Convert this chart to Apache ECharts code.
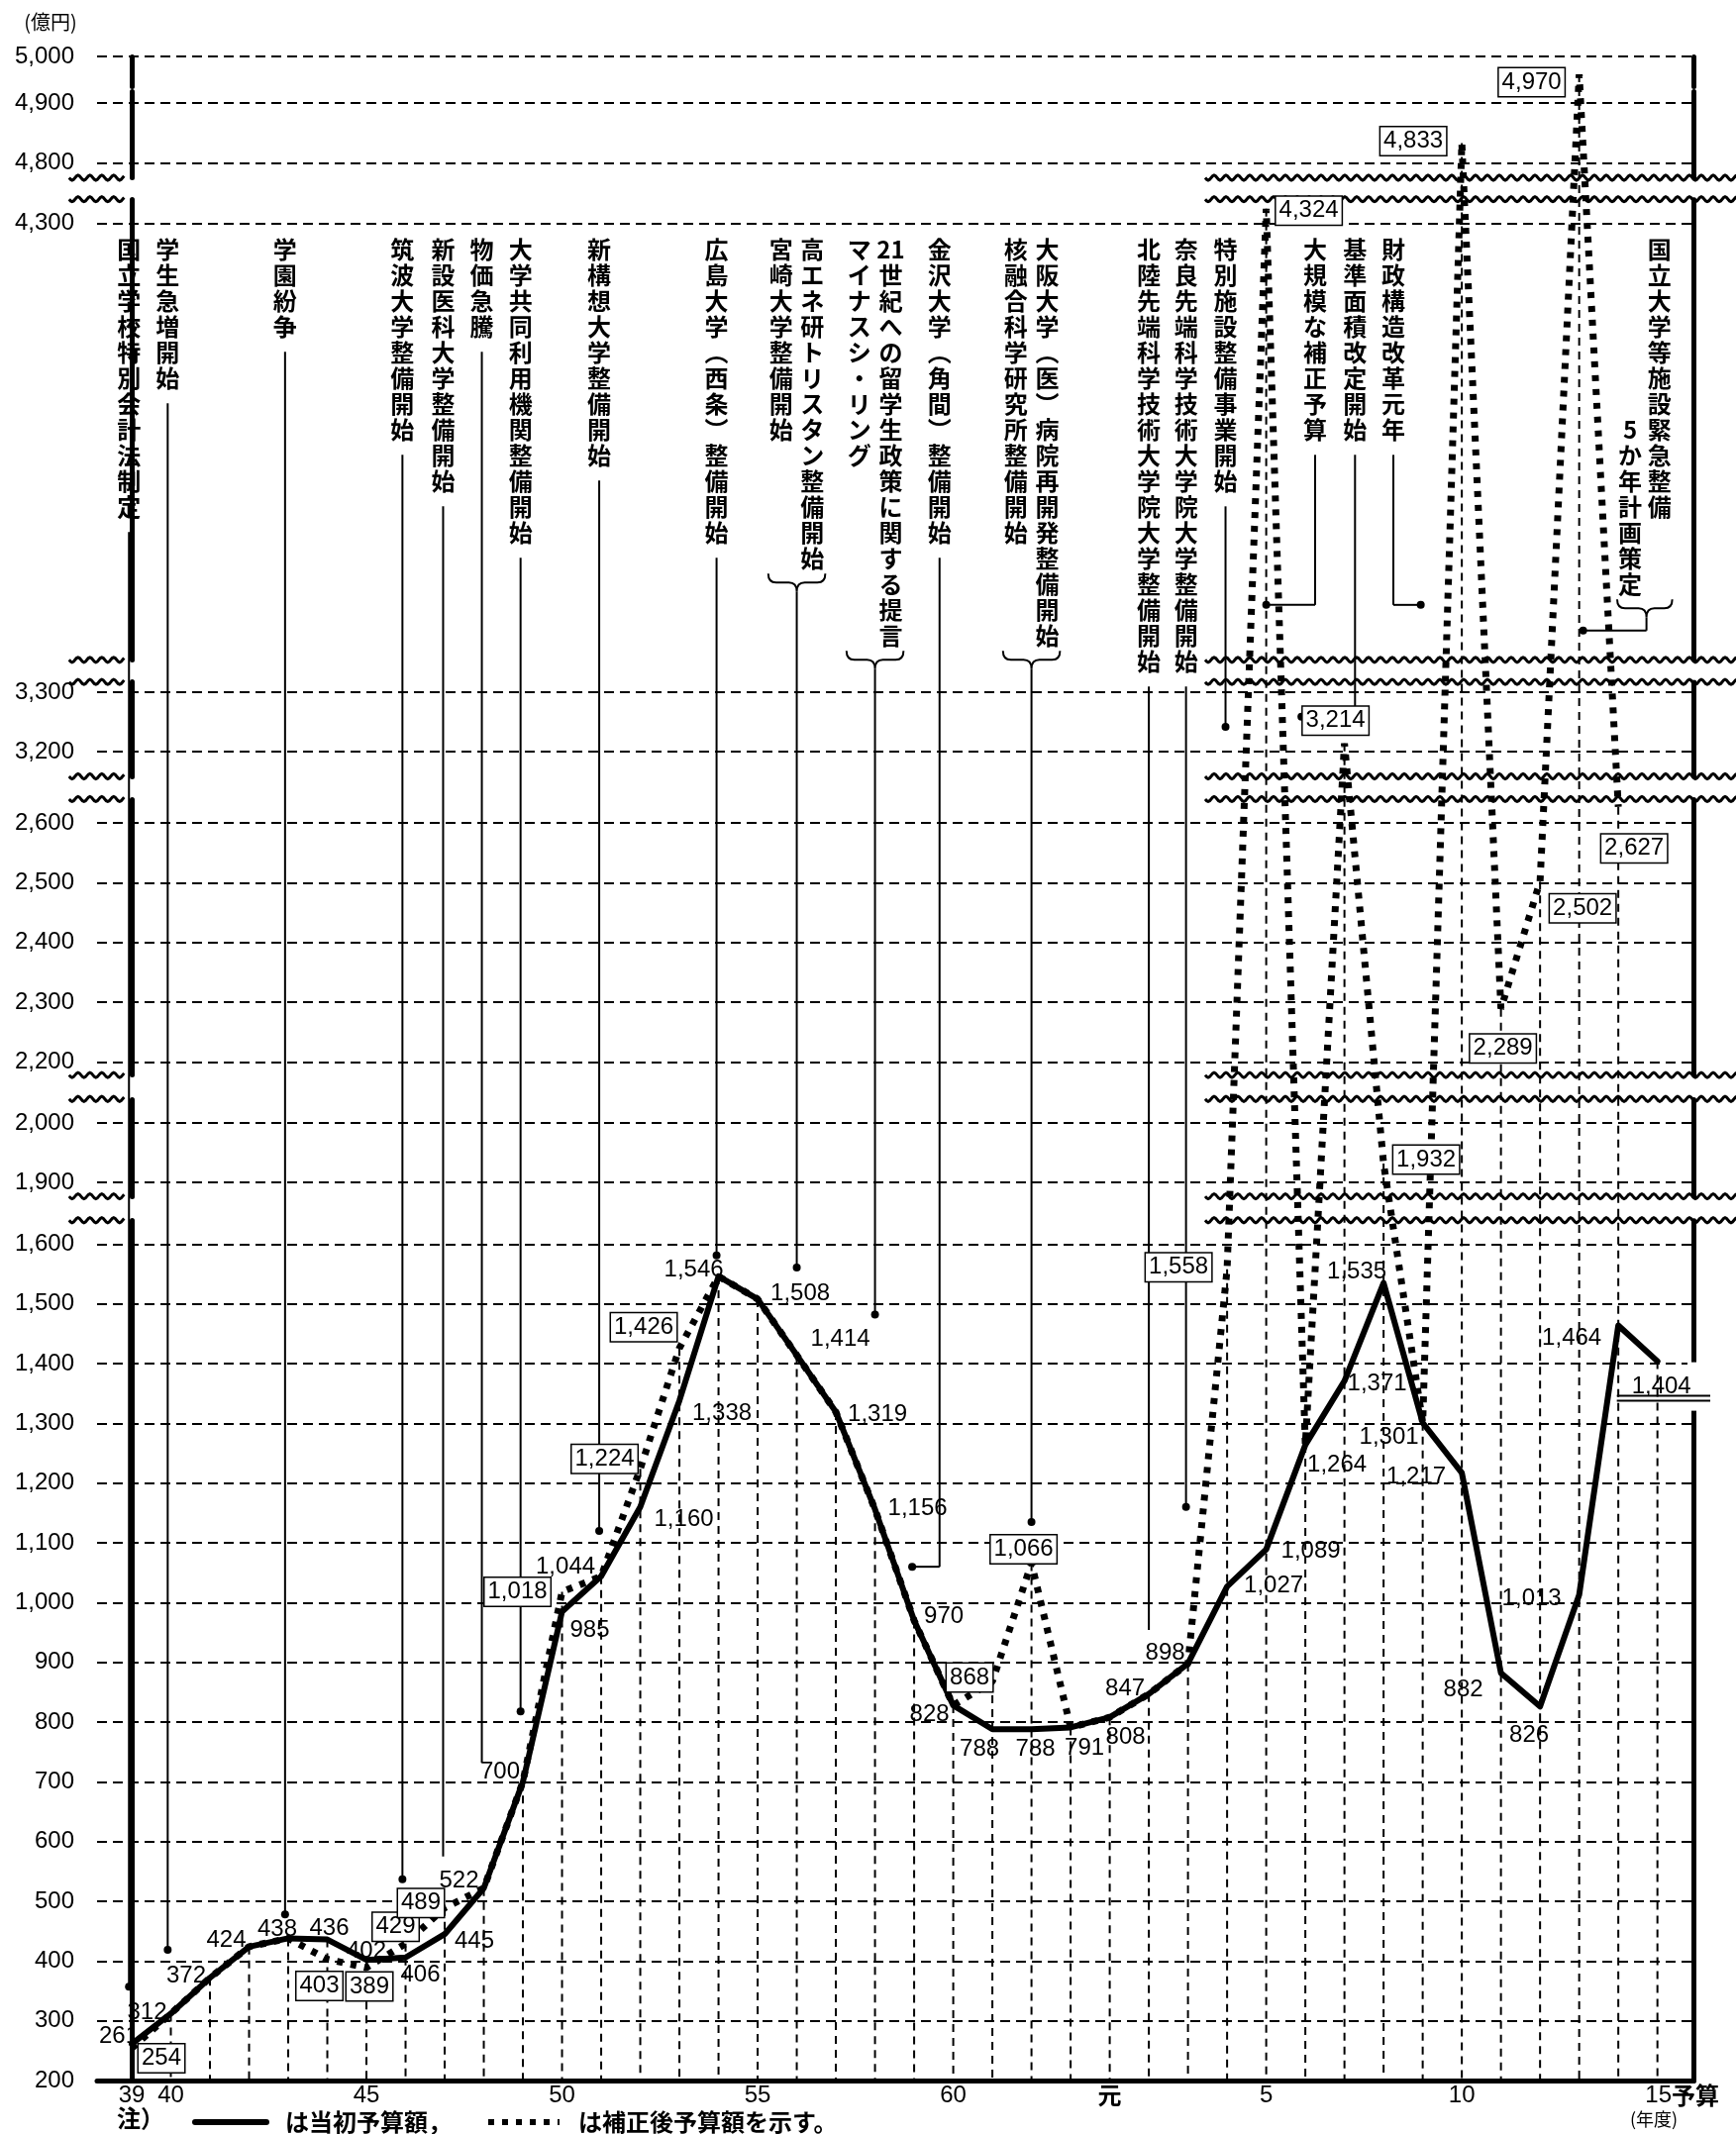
<!DOCTYPE html>
<html lang="ja">
<head>
<meta charset="utf-8">
<title>国立学校施設整備費の推移</title>
<script src="https://cdn.jsdelivr.net/npm/echarts@6.0.0/dist/echarts.min.js"></script>
<style>
html,body{margin:0;padding:0;background:#fff;}
#chart{width:1753px;height:2155px;}
</style>
</head>
<body>
<div id="chart"></div>
<script>
// ================= DATA =================
const yearLabels = ['39','40','41','42','43','44','45','46','47','48','49','50','51','52','53','54','55','56','57','58','59','60','61','62','63','元','2','3','4','5','6','7','8','9','10','11','12','13','14','15'];
// 当初予算額 (億円)
const initialBudget = [261,312,372,424,438,436,402,406,445,522,700,985,1044,1160,1338,1546,1508,1414,1319,1156,970,828,788,788,791,808,847,898,1027,1089,1264,1371,1535,1301,1217,882,826,1013,1464,1404];
// 補正後予算額 (億円)
const revisedBudget = [254,312,372,424,438,403,389,429,489,522,700,1018,1044,1224,1426,1546,1508,1414,1319,1156,970,828,868,1066,791,808,847,898,1558,4324,1264,3214,1932,1301,4833,2289,2502,4970,2627,null];
// 補正後予算額のうち枠付きで表示される年度
const revisedLabelIdx = [0,5,6,7,8,11,13,14,22,23,28,29,31,32,34,35,36,37,38];
// y axis tick labels
const yTickValues = [200,300,400,500,600,700,800,900,1000,1100,1200,1300,1400,1500,1600,1900,2000,2200,2300,2400,2500,2600,3200,3300,4300,4800,4900,5000];
// x axis tick positions (index into yearLabels)
const xTickIdx = [0,1,6,11,16,21,25,29,34,39];
// axis breaks drawn with wavy lines [start, end, gap]
const axisBreaks = [[1640,1877,40],[2040,2178,40],[2640,3159,38],[3317,3569,37],[4340,4775,36]];
// the top band (4,900–5,000) is drawn slightly shorter in the original: silent compression
const topCompression = [4920,4950,8];

// 出来事の注記 (縦書き)
const notes = [
  { x: -0.07, end: 357,  dot: true,  cols: [{ x: -0.07, t: '国立学校特別会計法制定' }] },
  { x: 0.92,  end: 419,  dot: true,  cols: [{ x: 0.92,  t: '学生急増開始' }] },
  { x: 3.92,  end: 478,  dot: true,  cols: [{ x: 3.92,  t: '学園紛争' }] },
  { x: 6.92,  end: 537,  dot: true,  cols: [{ x: 6.92,  t: '筑波大学整備開始' }] },
  { x: 7.96,  end: 575,  dot: false, cols: [{ x: 7.96,  t: '新設医科大学整備開始' }] },
  { x: 8.95,  end: 732,  dot: false, cols: [{ x: 8.95,  t: '物価急騰' }] },
  { x: 9.94,  end: 818,  dot: true,  cols: [{ x: 9.94,  t: '大学共同利用機関整備開始' }] },
  { x: 11.95, end: 1120, dot: true,  cols: [{ x: 11.95, t: '新構想大学整備開始' }] },
  { x: 14.95, end: 1581, dot: true,  cols: [{ x: 14.95, t: '広島大学︵西条︶整備開始' }] },
  { x: 17.0,  end: 1561, dot: true,  cols: [{ x: 16.6, t: '宮崎大学整備開始' }, { x: 17.4, t: '高エネ研トリスタン整備開始' }] },
  { x: 19.0,  end: 1482, dot: true,  cols: [{ x: 18.6, t: 'マイナスシ・リング' }, { x: 19.4, t: '21|世|紀|へ|の|留|学|生|政|策|に|関|す|る|提|言' }] },
  { x: 20.65, end: 1060, dot: true,  hook: 19.95, cols: [{ x: 20.65, t: '金沢大学︵角間︶整備開始' }] },
  { x: 23.0,  end: 1135, dot: true,  cols: [{ x: 22.6, t: '核融合科学研究所整備開始' }, { x: 23.4, t: '大阪大学︵医︶病院再開発整備開始' }] },
  { x: 26.0,  end: 954,  dot: false, cols: [{ x: 26.0,  t: '北陸先端科学技術大学院大学整備開始' }] },
  { x: 26.95, end: 1160, dot: true,  cols: [{ x: 26.95, t: '奈良先端科学技術大学院大学整備開始' }] },
  { x: 27.96, end: 3242, dot: true,  cols: [{ x: 27.96, t: '特別施設整備事業開始' }] },
  { x: 30.25, end: 3661, dot: true,  hook: 29.0,  cols: [{ x: 30.25, t: '大規模な補正予算' }] },
  { x: 31.27, end: 3259, dot: true,  hook: 29.9,  cols: [{ x: 31.27, t: '基準面積改定開始' }] },
  { x: 32.25, end: 3661, dot: true,  hook: 32.95, cols: [{ x: 32.25, t: '財政構造改革元年' }] },
  { x: 38.72, end: 3618, dot: true,  hook: 37.1,  cols: [{ x: 38.3, t: '5|か|年|計|画|策|定', row: 7 }, { x: 39.05, t: '国立大学等施設緊急整備' }] }
];

// ================= LAYOUT / STYLE =================
const initialLabelOffset = [
  [-13,-8],[-24,-1],[-24,-2],[-23,-6],[-11,-9],[2,-11],[0,-9],[15,18],[30,7],[-25,-7],
  [-23,-10],[28,19],[-36,-9],[44,13],[43,13],[-25,-7],[43,-6],[44,-16],[42,2],[43,-1],
  [30,-4],[-24,9],[-13,20],[4,20],[14,21],[16,20],[-24,-5],[-23,-11],[47,-1],[45,2],
  [32,20],[33,3],[-27,-11],[-34,15],[-46,4],[-38,17],[-11,29],[-48,4],[-47,13],[4,26]
];
const revisedLabelOffset = {
  0:[30,10],5:[-8,27],6:[3,19],7:[-10,-17],8:[-24,-5],11:[-45,0],13:[-36,-10],14:[-36,-21],
  22:[-23,-4],23:[-8,-14],28:[-49,-2],29:[43,2],31:[-9,-23],32:[43,-4],34:[-49,-2],
  35:[2,40],36:[43,27],37:[-48,8],38:[16,42]
};
const wavePieces = [[-1.6,-0.18],[27.44,41.1]];
const X_MIN = -0.886, X_MAX = 39.92;
const NUM_FONT = '"Liberation Sans", Arial, sans-serif';
const JP_FONT = '"Noto Sans CJK JP", sans-serif';
const LH = 26;

const fmt = v => v.toLocaleString('en-US');
const toCells = s => s.indexOf('|') >= 0 ? s.split('|') : Array.from(s);

const solidName = 'は当初予算額，';
const dottedName = 'は補正後予算額を示す。';

// label table built from the value arrays
const labelData = [];
initialBudget.forEach((v, i) => labelData.push({ i, v, boxed: false, off: initialLabelOffset[i] }));
revisedLabelIdx.forEach(i => labelData.push({ i, v: revisedBudget[i], boxed: true, off: revisedLabelOffset[i] }));

const dropData = initialBudget.map((v, i) => [i, Math.max(v, revisedBudget[i] == null ? v : revisedBudget[i])]);

function dropItem(params, api) {
  const i = api.value(0), top = api.value(1);
  const a = api.coord([i, top]), b = api.coord([i, 200]);
  return { type: 'line', shape: { x1: a[0], y1: a[1], x2: b[0], y2: b[1] },
    style: { stroke: '#000', lineWidth: 2, lineDash: [8, 6] } };
}

function waveItem(params, api) {
  const b = axisBreaks[params.dataIndex];
  const ys = [api.coord([0, b[0]])[1], api.coord([0, b[1]])[1]];
  const ch = [];
  const axL = api.coord([X_MIN, 1000])[0], axR = api.coord([X_MAX, 1000])[0];
  [axL, axR].forEach(ax => ch.push({ type: 'rect',
    shape: { x: ax - 6, y: ys[1] + 2, width: 12, height: ys[0] - ys[1] - 4 },
    style: { fill: '#fff' } }));
  wavePieces.forEach(pc => {
    const x0 = api.coord([pc[0], 1000])[0], x1 = api.coord([pc[1], 1000])[0];
    ys.forEach(y => {
      const pts = [];
      for (let x = x0; x <= x1; x += 1.5) pts.push([x, y + 2.5 * Math.sin((x - x0) / 12 * 2 * Math.PI)]);
      ch.push({ type: 'polyline', shape: { points: pts }, style: { stroke: '#000', lineWidth: 3, fill: null } });
    });
  });
  return { type: 'group', children: ch };
}

function noteItem(params, api) {
  const n = notes[params.dataIndex];
  const top = api.coord([0, 4300])[1] + 14;
  const ch = [];
  let bottom = top;
  n.cols.forEach(c => {
    const cells = toCells(c.t);
    const start = c.row || 0;
    const px = api.coord([c.x, 4300])[0];
    ch.push({ type: 'text', x: px, y: top + start * LH,
      style: { text: cells.join('\n'), font: 'bold 24px ' + JP_FONT, lineHeight: LH,
        align: 'center', verticalAlign: 'top', fill: '#000' } });
    bottom = Math.max(bottom, top + (start + cells.length) * LH);
  });
  const lx = api.coord([n.x, 4300])[0];
  const endY = api.coord([n.x, n.end])[1];
  let startY;
  if (n.cols.length > 1) {
    const L = api.coord([n.cols[0].x, 4300])[0] - 13;
    const R = api.coord([n.cols[1].x, 4300])[0] + 13;
    const T = bottom + 2, H = 18, M = T + H / 2, B = T + H;
    ch.push({ type: 'path', shape: { pathData:
      `M${L},${T}Q${L},${M} ${L + 8},${M}L${lx - 8},${M}Q${lx},${M} ${lx},${B}Q${lx},${M} ${lx + 8},${M}L${R - 8},${M}Q${R},${M} ${R},${T}` },
      style: { stroke: '#000', lineWidth: 2, fill: null } });
    startY = B;
  } else {
    startY = bottom + 12;
  }
  ch.push({ type: 'line', shape: { x1: lx, y1: startY, x2: lx, y2: endY }, style: { stroke: '#000', lineWidth: 2 } });
  let dotX = lx;
  if (n.hook != null) {
    const hx = api.coord([n.hook, n.end])[0];
    ch.push({ type: 'line', shape: { x1: lx, y1: endY, x2: hx, y2: endY }, style: { stroke: '#000', lineWidth: 2 } });
    dotX = hx;
  }
  if (n.dot) ch.push({ type: 'circle', shape: { cx: dotX, cy: endY, r: 4 }, style: { fill: '#000' } });
  return { type: 'group', children: ch };
}

function labelItem(params, api) {
  const d = labelData[params.dataIndex];
  const p = api.coord([d.i, d.v]);
  const cx = p[0] + d.off[0], cy = p[1] + d.off[1];
  const ch = [];
  if (!d.boxed && d.i === initialBudget.length - 1) {
    const axR = api.coord([X_MAX, 1000])[0];
    ch.push({ type: 'rect', shape: { x: axR - 6, y: cy - 25, width: 12, height: 49 }, style: { fill: '#fff' } });
    [9, 14].forEach(dy => ch.push({ type: 'line',
      shape: { x1: p[0] - 41, y1: cy + dy, x2: axR + 17, y2: cy + dy }, style: { stroke: '#000', lineWidth: 2 } }));
  }
  ch.push({ type: 'text', x: cx, y: cy,
    style: d.boxed ? {
      text: fmt(d.v), font: '24px ' + NUM_FONT, fill: '#000', align: 'center', verticalAlign: 'middle',
      backgroundColor: '#fff', borderColor: '#000', borderWidth: 1.5, padding: [3, 3, 1, 3]
    } : {
      text: fmt(d.v), font: '24px ' + NUM_FONT, fill: '#000', align: 'center', verticalAlign: 'middle'
    } });
  return { type: 'group', children: ch };
}

const breaksOpt = axisBreaks.concat([topCompression]).map(b => ({ start: b[0], end: b[1], gap: b[2] }));

const chart = echarts.init(document.getElementById('chart'), null, { renderer: 'canvas' });
chart.setOption({
  animation: false,
  backgroundColor: '#fff',
  grid: { left: 98, right: 43, top: 57, bottom: 54, outerBoundsMode: 'none', containLabel: false },
  legend: {
    left: 189, top: 2126, itemWidth: 72, itemHeight: 26, itemGap: 34,
    selectedMode: false,
    data: [solidName, dottedName],
    lineStyle: { width: 6 },
    itemStyle: { opacity: 0, color: 'rgba(0,0,0,0)', borderWidth: 0 },
    textStyle: { fontSize: 24, fontWeight: 'bold', fontFamily: JP_FONT, color: '#000', padding: [0, 0, 0, 14] }
  },
  graphic: [
    { type: 'text', x: 51, y: 22, style: { text: '(億円)', font: '20px ' + JP_FONT, fill: '#000', align: 'center', verticalAlign: 'middle' } },
    { type: 'text', x: 118, y: 2139, style: { text: '注）', font: 'bold 24px ' + JP_FONT, fill: '#000', align: 'left', verticalAlign: 'middle' } },
    { type: 'text', x: 1670, y: 2140, style: { text: '(年度)', font: '18px ' + JP_FONT, fill: '#000', align: 'center', verticalAlign: 'middle' } }
  ],
  xAxis: {
    type: 'value', min: X_MIN, max: X_MAX,
    axisLine: { show: true, lineStyle: { color: '#000', width: 5 } },
    axisTick: { show: false, customValues: xTickIdx },
    splitLine: { show: false },
    axisLabel: {
      customValues: xTickIdx, margin: 3, color: '#000', fontSize: 24, fontFamily: NUM_FONT,
      formatter: v => {
        const s = yearLabels[Math.round(v)];
        if (s === '元') return '{g|元}';
        if (Math.round(v) === yearLabels.length - 1) return '{n|' + s + '}{b|予算}';
        return s;
      },
      rich: {
        g: { fontSize: 24, fontWeight: 'bold', fontFamily: JP_FONT, color: '#000' },
        n: { fontSize: 24, fontFamily: NUM_FONT, color: '#000', padding: [0, 0, 0, 50] },
        b: { fontSize: 24, fontWeight: 'bold', fontFamily: JP_FONT, color: '#000' }
      }
    }
  },
  yAxis: [{
    type: 'value', min: 200, max: 5000,
    breaks: breaksOpt,
    breakArea: { show: false },
    axisLine: { show: true, lineStyle: { color: '#000', width: 5 } },
    axisTick: { show: false, customValues: yTickValues },
    axisLabel: { customValues: yTickValues, formatter: v => fmt(v), fontSize: 24, fontFamily: NUM_FONT, color: '#000', margin: 23 },
    splitLine: { show: true, lineStyle: { color: '#000', width: 2, type: [10, 6] } }
  }, {
    type: 'value', min: 200, max: 5000, position: 'right',
    breaks: breaksOpt,
    breakArea: { show: false },
    axisLine: { show: true, lineStyle: { color: '#000', width: 5 } },
    axisTick: { show: false }, axisLabel: { show: false }, splitLine: { show: false }
  }],
  series: [
    { type: 'custom', name: 'drop', z: 1, silent: true, renderItem: dropItem, data: dropData },
    { type: 'line', name: dottedName, z: 2, silent: true, symbol: 'none',
      lineStyle: { color: '#000', width: 7, type: [6, 8], cap: 'butt' },
      itemStyle: { color: '#000' },
      data: revisedBudget.map((v, i) => [i, v]).filter(d => d[1] != null) },
    { type: 'line', name: solidName, z: 3, silent: true, symbol: 'none',
      lineStyle: { color: '#000', width: 6, join: 'round', cap: 'round' },
      itemStyle: { color: '#000' },
      data: initialBudget.map((v, i) => [i, v]) },
    { type: 'custom', name: 'waves', z: 4, silent: true, clip: false, renderItem: waveItem,
      data: axisBreaks.map(b => [0, b[0]]) },
    { type: 'custom', name: 'notes', z: 5, silent: true, clip: false, renderItem: noteItem,
      data: notes.map(n => [n.x, 4300]) },
    { type: 'custom', name: 'labels', z: 6, silent: true, clip: false, renderItem: labelItem,
      data: labelData.map(d => [d.i, d.v]) }
  ]
});
</script>
</body>
</html>
